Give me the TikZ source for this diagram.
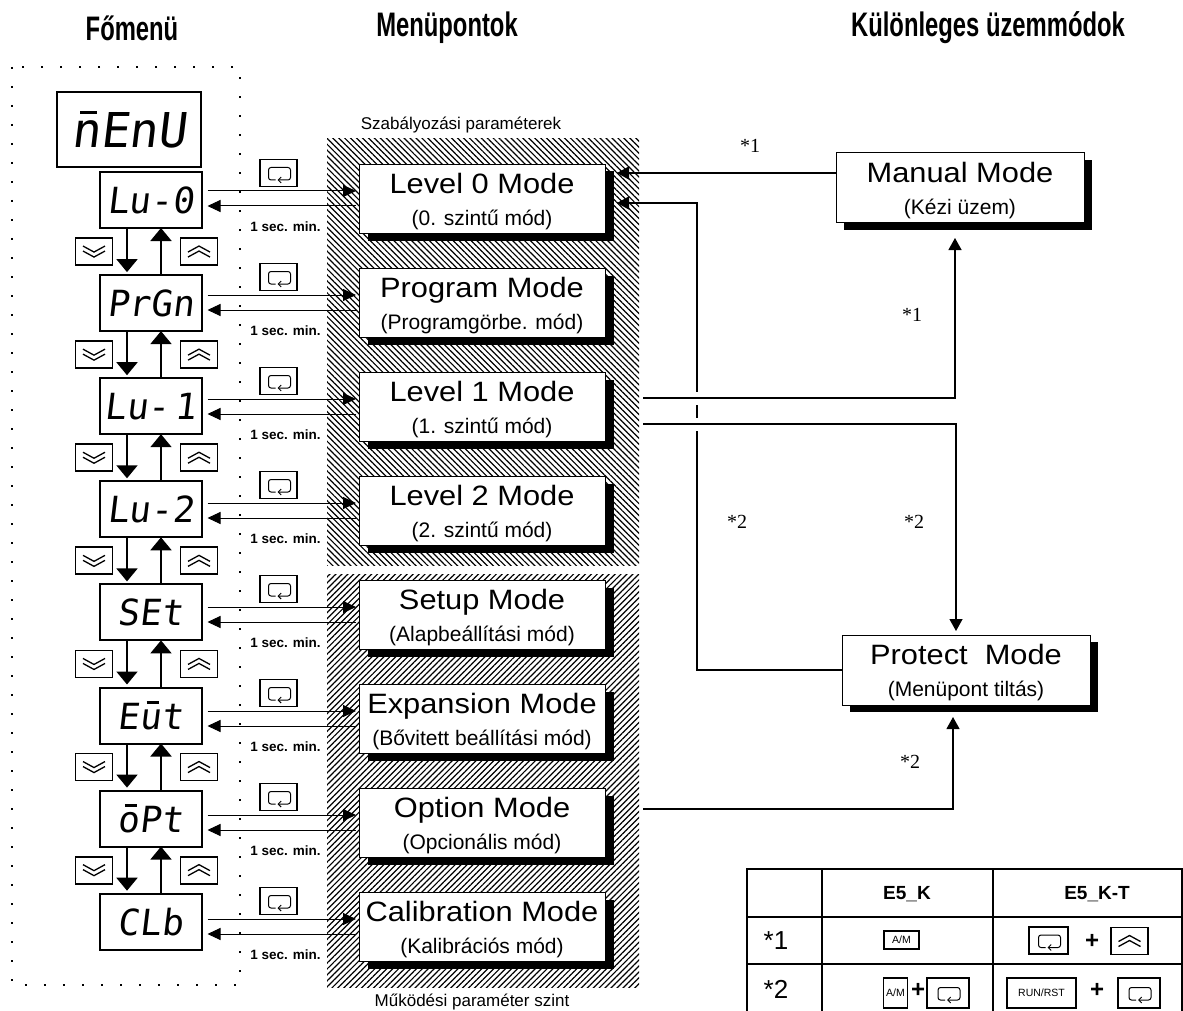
\documentclass[tikz,border=0pt]{standalone}
\usepackage{fontspec}
\setmainfont{Liberation Sans}
\newfontfamily\titlefont[FakeStretch=1.1]{Liberation Sans}
\newfontfamily\headfont[FakeStretch=0.7]{Liberation Sans}
\newfontfamily\segfont[FakeSlant=0.12]{DejaVu Sans Mono}
\newfontfamily\starfont{Liberation Serif}
\usepackage{tikz}
\usetikzlibrary{arrows.meta, positioning, calc, patterns.meta, shadows}

% top segment of a seven segment glyph
\newcommand{\segtop}[1]{\makebox[0pt][l]{\hspace{0.19em}\rule[0.7em]{0.34em}{0.07em}}#1}
% two line text of a mode box
\newcommand{\modetxt}[2]{{\titlefont\fontsize{28}{32}\selectfont\rule{0pt}{26pt}#1}\\#2}

\begin{document}
\begin{tikzpicture}[x=1pt, y=-1pt,
    node distance=47.1pt,
    disp/.style={draw, line width=2pt, minimum width=102pt, minimum height=56pt,
                 inner sep=0pt, outer sep=0pt, font=\segfont\fontsize{36}{36}\selectfont},
    shadowbox/.style={draw, line width=1pt, fill=white, inner sep=0pt, outer sep=0pt,
                 align=center, font=\fontsize{21}{32}\selectfont},
    mode/.style={shadowbox, minimum width=246pt, minimum height=69pt,
                 drop shadow={shadow xshift=9pt, shadow yshift=-7pt, fill=black, opacity=1}},
    spec/.style={shadowbox, minimum width=248pt, minimum height=70pt,
                 drop shadow={shadow xshift=8pt, shadow yshift=-7pt, fill=black, opacity=1}},
    head/.style={font=\headfont\bfseries\fontsize{34}{34}\selectfont},
    group/.style={font=\fontsize{17}{18}\selectfont},
    secnote/.style={font=\bfseries\fontsize{13.5}{14}\selectfont},
    star/.style={font=\starfont\fontsize{20}{20}\selectfont},
    cell/.style={font=\fontsize{26}{26}\selectfont},
    cellhead/.style={font=\bfseries\fontsize{19}{20}\selectfont},
    dotframe/.style={line width=1.6pt, dash pattern=on 1.6pt off 17.4pt},
    arrow/.style={-{Triangle[length=13pt,width=12pt]}, line width=1pt},
    steparrow/.style={-{Triangle[length=13pt,width=21pt]}, line width=2pt},
    flow/.style={-{Triangle[length=12pt,width=13pt]}, line width=1.2pt},
    hop/.style={preaction={draw=white, line width=13pt, arrows=-}},
    keybox/.style={draw, line width=1.8pt, minimum width=37pt, minimum height=27pt,
                   inner sep=0pt, outer sep=0pt},
    enterkey/.style={keybox, path picture={
        \coordinate (kc) at (path picture bounding box.center);
        \draw[line width=1pt, rounded corners=2.5pt, -{Straight Barb[length=3pt,width=6pt]}]
            ($(kc)+(-3,7)$) -- ++(-7,0) -- ++(0,-12.5) -- ++(22,0) -- ++(0,12.5) -- ++(-13,0);}},
    downkey/.style={keybox, path picture={
        \coordinate (kc) at (path picture bounding box.center);
        \draw[line width=1.3pt] ($(kc)+(-11,-5.5)$) -- ++(11,6) -- ++(11,-6)
            ($(kc)+(-11,-0.5)$) -- ++(11,6) -- ++(11,-6);}},
    upkey/.style={keybox, path picture={
        \coordinate (kc) at (path picture bounding box.center);
        \draw[line width=1.3pt] ($(kc)+(-11,5.5)$) -- ++(11,-6) -- ++(11,6)
            ($(kc)+(-11,0.5)$) -- ++(11,-6) -- ++(11,6);}},
    amkey/.style={draw, line width=1.2pt, inner sep=0pt, outer sep=0pt,
                  font=\fontsize{10.5}{11}\selectfont}
]
    \useasboundingbox (0,0) rectangle (1183,1011);

    % hatched parameter groups
    \fill[pattern={Lines[angle=-45,distance=4.2pt,line width=1.2pt]}] (327,139) rectangle (639,565);
    \fill[pattern={Lines[angle=45,distance=4.2pt,line width=1.2pt]}] (327,574) rectangle (639,987);
    \draw[dotframe] (12,67) rectangle (240,985);

    % headings
    \node[head]  (hmain)  at (132,28) {Főmenü};
    \node[head]  (hitems) at (447,28) {Menüpontok};
    \node[head]  (hspec)  at (988,28) {Különleges üzemmódok};
    \node[group] (gtop)   at (461,125) {Szabályozási paraméterek};
    \node[group] (gbot)   at (472,1002) {Működési paraméter szint};

    % main menu
    \node[disp, minimum width=144pt, minimum height=75pt,
          font=\segfont\fontsize{48}{48}\selectfont] (menu) at (129,129.5) {\segtop{n}EnU};
    \node[disp] (d0) at (150.5,200) {Lu-0};
    \node[disp, below=of d0] (d1) {PrGn};
    \node[disp, below=of d1] (d2) {Lu-\kern.15em 1};
    \node[disp, below=of d2] (d3) {Lu-2};
    \node[disp, below=of d3] (d4) {SEt};
    \node[disp, below=of d4] (d5) {E\segtop{u}t};
    \node[disp, below=of d5] (d6) {\segtop{o}Pt};
    \node[disp, below=of d6] (d7) {CLb};

    % menu items
    \node[mode] (m0) at (482,199) {\modetxt{Level 0 Mode}{(0. szintű mód)}};
    \node[mode, below=35pt of m0] (m1) {\modetxt{Program Mode}{(Programgörbe. mód)}};
    \node[mode, below=35pt of m1] (m2) {\modetxt{Level 1 Mode}{(1. szintű mód)}};
    \node[mode, below=35pt of m2] (m3) {\modetxt{Level 2 Mode}{(2. szintű mód)}};
    \node[mode, below=35pt of m3] (m4) {\modetxt{Setup Mode}{(Alapbeállítási mód)}};
    \node[mode, below=35pt of m4] (m5) {\modetxt{Expansion Mode}{(Bővitett beállítási mód)}};
    \node[mode, below=35pt of m5] (m6) {\modetxt{Option Mode}{(Opcionális mód)}};
    \node[mode, below=35pt of m6] (m7) {\modetxt{Calibration Mode}{(Kalibrációs mód)}};

    \foreach \i in {0,...,7} {
        \draw[arrow] ($(d\i.east |- m\i.west)+(6,-8)$) -- ($(m\i.west)+(-3,-8)$);
        \draw[arrow] ($(m\i.west)+(-3,7)$) -- ($(d\i.east |- m\i.west)+(6,7)$);
        \node[enterkey] (k\i) at ($(d\i.east |- m\i.west)+(77,-26)$) {};
        \node[secnote]  (s\i) at ($(d\i.east |- m\i.west)+(84,28)$) {1 sec. min.};
    }
    \foreach \i/\j in {0/1,1/2,2/3,3/4,4/5,5/6,6/7} {
        \draw[steparrow] ($(d\i.south)+(-23.5,0)$) -- ($(d\j.north)+(-23.5,-3)$);
        \draw[steparrow] ($(d\j.north)+(10.5,0)$) -- ($(d\i.south)+(10.5,0)$);
        \node[downkey] (dn\i) at ($(d\i.south)!.5!(d\j.north)+(-56.5,0)$) {};
        \node[upkey]   (up\i) at ($(d\i.south)!.5!(d\j.north)+(48.5,0)$) {};
    }

    % special modes
    \node[spec] (man)  at (960,188) {\modetxt{Manual Mode}{(Kézi üzem)}};
    \node[spec] (prot) at (966,670) {\modetxt{Protect\ \ Mode}{(Menüpont tiltás)}};

    \coordinate (in0a) at ($(m0.east)+(12,-26)$);
    \coordinate (in0b) at ($(m0.east)+(12,4)$);
    \coordinate (l1a)  at ($(m2.east)+(38,-9)$);
    \coordinate (l1b)  at ($(m2.east)+(38,17)$);
    \coordinate (opt)  at ($(m6.east)+(38,-14)$);

    \draw[flow] (man.west |- in0a) -- (in0a);
    \draw[flow] (prot.west) -| ($(in0b)+(80,0)$) -- (in0b);
    \draw[flow, hop] (l1a) -| ($(man.south)+(-5,15)$);
    \draw[flow, hop] (l1b) -| ($(prot.north)+(-10,-4)$);
    \draw[flow] (opt) -| ($(prot.south)+(-13,12)$);

    \node[star] (n1a) at (750,146) {*1};
    \node[star] (n1b) at (912,315) {*1};
    \node[star] (n2a) at (737,522) {*2};
    \node[star] (n2b) at (914,522) {*2};
    \node[star] (n2c) at (910,762) {*2};

    % key table
    \draw[line width=1.3pt] (747,869) rectangle (1182,1013)
        (747,917) -- (1182,917) (747,964) -- (1182,964)
        (822,869) -- (822,1013) (993,869) -- (993,1013);
    \node[cellhead] (tk)  at (907,894) {E5\_K};
    \node[cellhead] (tkt) at (1097,894) {E5\_K-T};
    \node[cell] (r1) at (776,941) {*1};
    \node[cell] (r2) at (776,989) {*2};
    \node[amkey, minimum width=35pt, minimum height=18pt] (am1) at (901.5,940) {A/M};
    \node[enterkey, minimum width=39pt] (ke1) at (1048.5,940.5) {};
    \node[cell, font=\bfseries\fontsize{24}{24}\selectfont] (p1) at (1092,941) {+};
    \node[upkey] (ku1) at (1129.5,941) {};
    \node[amkey, minimum width=24pt, minimum height=30pt] (am2) at (895.5,993) {A/M};
    \node[cell, font=\bfseries\fontsize{24}{24}\selectfont] (p2) at (918,990) {+};
    \node[enterkey, minimum width=42pt, minimum height=30pt] (ke2) at (948,993) {};
    \node[amkey, line width=1.6pt, minimum width=69pt, minimum height=30pt] (rr) at (1041.5,993) {RUN/RST};
    \node[cell, font=\bfseries\fontsize{24}{24}\selectfont] (p3) at (1097,990) {+};
    \node[enterkey, minimum width=42pt, minimum height=30pt] (ke3) at (1139,993) {};
\end{tikzpicture}
\end{document}
